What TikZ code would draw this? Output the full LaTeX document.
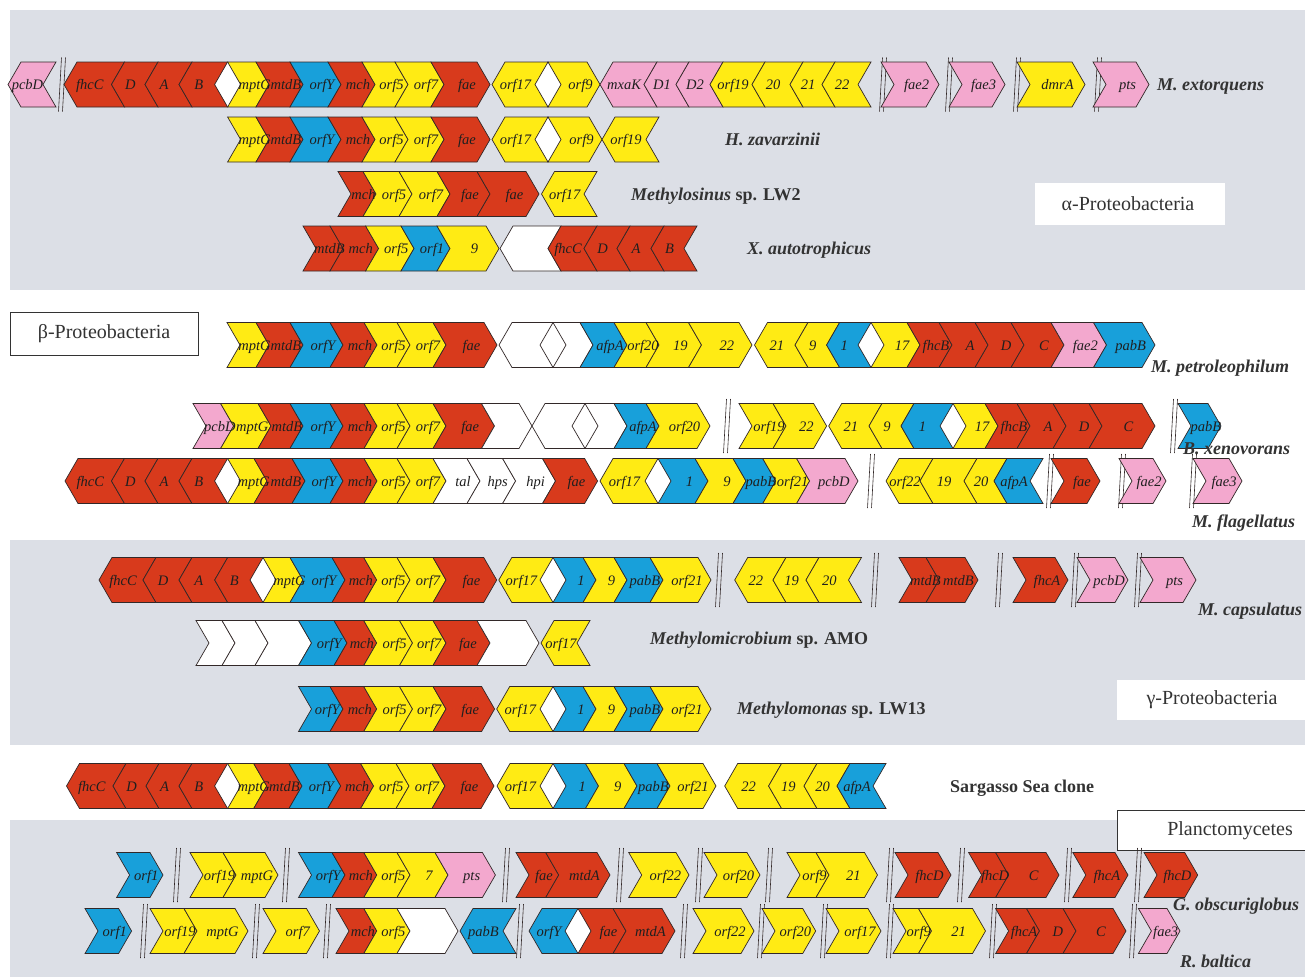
\documentclass[tikz,border=0pt]{standalone}
\usepackage{fontspec}
\setmainfont{Liberation Serif}
\definecolor{gred}{RGB}{216,58,28}
\definecolor{gyel}{RGB}{255,235,20}
\definecolor{gblu}{RGB}{24,160,218}
\definecolor{gpnk}{RGB}{243,168,206}
\definecolor{bandgray}{RGB}{220,223,230}
\definecolor{edge}{RGB}{50,40,40}

\pgfdeclarelayer{labels}
\pgfsetlayers{main,labels}

\newcounter{genectr}
\newcommand\rowy{0}
\newcommand\setrow[1]{\renewcommand\rowy{#1}}
% right-pointing gene: notch x, tip x, fill, label
\newcommand\gr[4]{%
  \stepcounter{genectr}%
  \draw[gene,fill=#3] ({#1-13},{\rowy-22.5}) -- ({#2-13},{\rowy-22.5}) -- (#2,\rowy)
     -- ({#2-13},{\rowy+22.5}) -- ({#1-13},{\rowy+22.5}) -- (#1,\rowy) -- cycle;
  \begin{pgfonlayer}{labels}
  \node[glabel] (gene\arabic{genectr}) at ({(#1+#2)/2},{\rowy+5}) {#4};
  \end{pgfonlayer}%
}
% left-pointing gene: tip x, notch x, fill, label
\newcommand\gl[4]{%
  \stepcounter{genectr}%
  \draw[gene,fill=#3] (#1,\rowy) -- ({#1+13},{\rowy-22.5}) -- ({#2+13},{\rowy-22.5})
     -- (#2,\rowy) -- ({#2+13},{\rowy+22.5}) -- ({#1+13},{\rowy+22.5}) -- cycle;
  \begin{pgfonlayer}{labels}
  \node[glabel] (gene\arabic{genectr}) at ({(#1+#2)/2+2},{\rowy+5}) {#4};
  \end{pgfonlayer}%
}
% white gap between two genes meeting tail to tail
\newcommand\dia[1]{%
  \fill[white] (#1,\rowy) -- ({#1+13},{\rowy-22.5}) -- ({#1+26},\rowy) -- ({#1+13},{\rowy+22.5}) -- cycle;%
}
% break in the sequence
\newcommand\brk[1]{%
  \draw[brkline] ({#1+1.5},{\rowy-27}) -- ({#1-1.5},{\rowy+27});
  \draw[brkline] ({#1+5.5},{\rowy-27}) -- ({#1+2.5},{\rowy+27});%
}

\begin{document}
\begin{tikzpicture}[x=1pt,y=-1pt,
  gene/.style={draw=edge, line width=0.7pt, line join=miter},
  glabel/.style={anchor=base, inner sep=0pt, text=black!88,
    font=\fontsize{14.5}{14.5}\selectfont\itshape},
  brkline/.style={draw=edge, line width=0.6pt},
  species/.style={anchor=base west, inner sep=0pt, text=black!80,
    font=\fontsize{18}{18}\selectfont\bfseries\itshape},
  spname/.style={anchor=base west, inner sep=0pt, text=black!80,
    font=\fontsize{18}{18}\selectfont\bfseries},
  grouplabel/.style={inner sep=0pt, text=black!80, font=\fontsize{20}{20}\selectfont}]

\useasboundingbox (0,0) rectangle (1305,977);
\fill[white] (0,0) rectangle (1305,977);
% taxon bands
\fill[bandgray] (10,10) rectangle (1305,290);
\fill[bandgray] (10,540) rectangle (1305,745);
\fill[bandgray] (10,820) rectangle (1305,977);

% group labels
\fill[white] (1035,183) rectangle (1225,225);
\node[grouplabel] (alpha) at (1128,204) {α-Proteobacteria};
\draw[fill=white, draw=black!80, line width=0.6pt] (10,312) rectangle (198,355);
\node[grouplabel] (beta) at (104,333.5) {β-Proteobacteria};
\fill[white] (1117,680) rectangle (1305,720);
\node[grouplabel] (gamma) at (1212,700) {γ-Proteobacteria};
\draw[fill=white, draw=black!80, line width=0.6pt] (1117,810) rectangle (1310,850);
\node[grouplabel] (planc) at (1230,831) {Planctomycetes};

% ---- M. extorquens
\setrow{84.5}
\dia{214.6} \dia{535}
\gl{8}{43}{gpnk}{pcbD}
\brk{60}
\gl{64}{111.5}{gred}{fhcC}
\gl{111.5}{145}{gred}{D}
\gl{145}{179}{gred}{A}
\gl{179}{214.6}{gred}{B}
\gr{240.6}{269}{gyel}{mptG}
\gr{269}{303}{gred}{mtdB}
\gr{303}{341}{gblu}{orfY}
\gr{341}{375}{gred}{mch}
\gr{375}{408}{gyel}{orf5}
\gr{408}{444}{gyel}{orf7}
\gr{444}{490}{gred}{fae}
\gl{492}{535}{gyel}{orf17}
\gr{561}{600}{gyel}{orf9}
\gl{600}{644}{gpnk}{mxaK}
\gl{644}{676}{gpnk}{D1}
\gl{676}{710}{gpnk}{D2}
\gl{710}{752}{gyel}{orf19}
\gl{752}{790}{gyel}{20}
\gl{790}{822}{gyel}{21}
\gl{822}{858}{gyel}{22}
\brk{881}
\gr{894}{939}{gpnk}{fae2}
\brk{947}
\gr{962}{1005}{gpnk}{fae3}
\brk{1015}
\gr{1030}{1085}{gyel}{dmrA}
\brk{1096}
\gr{1106}{1149}{gpnk}{pts}
\node[species] (sp1) at (1157,90.5) {M. extorquens};

% ---- H. zavarzinii
\setrow{139.5}
\dia{535}
\gr{240.6}{269}{gyel}{mptG}
\gr{269}{303}{gred}{mtdB}
\gr{303}{341}{gblu}{orfY}
\gr{341}{375}{gred}{mch}
\gr{375}{408}{gyel}{orf5}
\gr{408}{444}{gyel}{orf7}
\gr{444}{490}{gred}{fae}
\gl{492}{535}{gyel}{orf17}
\gr{561}{602}{gyel}{orf9}
\gl{602}{646}{gyel}{orf19}
\node[species] (sp2) at (725,145.5) {H. zavarzinii};

% ---- Methylosinus sp. LW2
\setrow{194}
\gr{351}{376}{gred}{mch}
\gr{376}{412}{gyel}{orf5}
\gr{412}{450}{gyel}{orf7}
\gr{450}{490}{gred}{fae}
\gr{490}{539}{gred}{fae}
\gl{541.5}{584}{gyel}{orf17}
\node[spname] (sp3) at (631,200) {\textit{Methylosinus} sp. LW2};

% ---- X. autotrophicus
\setrow{248.5}
\gr{316}{343}{gred}{mtdB}
\gr{343}{378.6}{gred}{mch}
\gr{378.6}{414}{gyel}{orf5}
\gr{414}{450}{gblu}{orf1}
\gr{450}{499}{gyel}{9}
\gl{500}{548}{white}{}
\gl{548}{584}{gred}{fhcC}
\gl{584}{617}{gred}{D}
\gl{617}{651}{gred}{A}
\gl{651}{684}{gred}{B}
\node[species] (sp4) at (747,254.5) {X. autotrophicus};

% ---- M. petroleophilum
\setrow{345}
\dia{540} \dia{858}
\gr{240}{269}{gyel}{mptG}
\gr{269}{303}{gred}{mtdB}
\gr{303}{343}{gblu}{orfY}
\gr{343}{377}{gred}{mch}
\gr{377}{410}{gyel}{orf5}
\gr{410}{446}{gyel}{orf7}
\gr{446}{497}{gred}{fae}
\gl{499}{540}{white}{}
\gr{566}{593}{white}{}
\gr{593}{627}{gblu}{afpA}
\gr{627}{659}{gyel}{orf20}
\gr{659}{701.5}{gyel}{19}
\gr{701.5}{752}{gyel}{22}
\gl{754.5}{795}{gyel}{21}
\gl{795}{826.6}{gyel}{9}
\gl{826.6}{858}{gblu}{1}
\gr{884}{920}{gyel}{17}
\gr{920}{952}{gred}{fhcB}
\gr{952}{988}{gred}{A}
\gr{988}{1024}{gred}{D}
\gr{1024}{1064}{gred}{C}
\gr{1064}{1106.5}{gpnk}{fae2}
\gr{1106.5}{1155}{gblu}{pabB}
\node[species] (sp5) at (1151,372) {M. petroleophilum};

% ---- B. xenovorans
\setrow{426}
\dia{572} \dia{940}
\gr{206}{233.6}{gpnk}{pcbD}
\gr{233.6}{271}{gyel}{mptG}
\gr{271}{303}{gred}{mtdB}
\gr{303}{343}{gblu}{orfY}
\gr{343}{377}{gred}{mch}
\gr{377}{410}{gyel}{orf5}
\gr{410}{446}{gyel}{orf7}
\gr{446}{494.5}{gred}{fae}
\gr{494.5}{532}{white}{}
\gl{532}{572}{white}{}
\gr{598}{627}{white}{}
\gr{627}{659}{gblu}{afpA}
\gr{659}{710}{gyel}{orf20}
\brk{725}
\gr{752}{786}{gyel}{orf19}
\gr{786}{826.6}{gyel}{22}
\gl{828.7}{869}{gyel}{21}
\gl{869}{901}{gyel}{9}
\gl{901}{940}{gblu}{1}
\gr{966}{998}{gyel}{17}
\gr{998}{1030}{gred}{fhcB}
\gr{1030}{1066}{gred}{A}
\gr{1066}{1102}{gred}{D}
\gr{1102}{1155}{gred}{C}
\brk{1172}
\gr{1191}{1221}{gblu}{pabB}
\node[species] (sp6) at (1183,454) {B. xenovorans};

% ---- M. flagellatus
\setrow{481}
\dia{214.6} \dia{645}
\gl{65}{111.5}{gred}{fhcC}
\gl{111.5}{145}{gred}{D}
\gl{145}{179}{gred}{A}
\gl{179}{214.6}{gred}{B}
\gr{240.6}{267}{gyel}{mptG}
\gr{267}{305}{gred}{mtdB}
\gr{305}{343}{gblu}{orfY}
\gr{343}{377}{gred}{mch}
\gr{377}{410}{gyel}{orf5}
\gr{410}{446}{gyel}{orf7}
\gr{446}{480}{white}{tal}
\gr{480}{515.6}{white}{hps}
\gr{515.6}{555.5}{white}{hpi}
\gr{555.5}{597.6}{gred}{fae}
\gl{600}{645}{gyel}{orf17}
\gr{671}{708}{gblu}{1}
\gr{708}{746}{gyel}{9}
\gr{746}{775.7}{gblu}{pabB}
\gr{775.7}{809.6}{gyel}{orf21}
\gr{809.6}{858}{gpnk}{pcbD}
\brk{869}
\gl{886}{920}{gyel}{orf22}
\gl{920}{964}{gyel}{19}
\gl{964}{994}{gyel}{20}
\gl{994}{1030}{gblu}{afpA}
\brk{1048}
\gr{1064}{1100}{gred}{fae}
\brk{1120}
\gr{1132}{1166}{gpnk}{fae2}
\brk{1191}
\gr{1206}{1242}{gpnk}{fae3}
\node[species] (sp7) at (1192,527) {M. flagellatus};

% ---- M. capsulatus
\setrow{580}
\dia{250} \dia{540}
\gl{99}{143}{gred}{fhcC}
\gl{143}{179}{gred}{D}
\gl{179}{214.7}{gred}{A}
\gl{214.7}{250}{gred}{B}
\gr{276}{303}{gyel}{mptG}
\gr{303}{345}{gblu}{orfY}
\gr{345}{376.7}{gred}{mch}
\gr{376.7}{410}{gyel}{orf5}
\gr{410}{446}{gyel}{orf7}
\gr{446}{496.7}{gred}{fae}
\gl{498.8}{540}{gyel}{orf17}
\gr{566}{596}{gblu}{1}
\gr{596}{627}{gyel}{9}
\gr{627}{663}{gblu}{pabB}
\gr{663}{711}{gyel}{orf21}
\brk{717}
\gl{734.7}{773}{gyel}{22}
\gl{773}{806}{gyel}{19}
\gl{806}{848.5}{gyel}{20}
\brk{873}
\gr{912}{939}{gred}{mtdB}
\gr{939}{978}{gred}{mtdB}
\brk{997}
\gr{1026}{1068}{gred}{fhcA}
\brk{1073}
\gr{1090}{1128}{gpnk}{pcbD}
\brk{1136}
\gr{1153}{1196}{gpnk}{pts}
\node[species] (sp8) at (1198,615) {M. capsulatus};

% ---- Methylomicrobium sp. AMO
\setrow{643}
\gr{209}{235}{white}{}
\gr{235}{268}{white}{}
\gr{268}{311.5}{white}{}
\gr{311.5}{347}{gblu}{orfY}
\gr{347}{376.7}{gred}{mch}
\gr{376.7}{412.5}{gyel}{orf5}
\gr{412.5}{446}{gyel}{orf7}
\gr{446}{490}{gred}{fae}
\gr{490}{539}{white}{}
\gl{541}{577}{gyel}{orf17}
\node[spname] (sp9) at (650,644) {\textit{Methylomicrobium} sp. AMO};

% ---- Methylomonas sp. LW13
\setrow{709}
\dia{540}
\gr{311.5}{343}{gblu}{orfY}
\gr{343}{376.7}{gred}{mch}
\gr{376.7}{412.5}{gyel}{orf5}
\gr{412.5}{446}{gyel}{orf7}
\gr{446}{494.6}{gred}{fae}
\gl{496.7}{540}{gyel}{orf17}
\gr{566}{596}{gblu}{1}
\gr{596}{627}{gyel}{9}
\gr{627}{663}{gblu}{pabB}
\gr{663}{711}{gyel}{orf21}
\node[spname] (sp10) at (737,714) {\textit{Methylomonas} sp. LW13};

% ---- Sargasso Sea clone
\setrow{786}
\dia{214.6} \dia{540}
\gl{66.5}{113}{gred}{fhcC}
\gl{113}{146}{gred}{D}
\gl{146}{179}{gred}{A}
\gl{179}{214.6}{gred}{B}
\gr{240.6}{266.7}{gyel}{mptG}
\gr{266.7}{302}{gred}{mtdB}
\gr{302}{340.7}{gblu}{orfY}
\gr{340.7}{373.6}{gred}{mch}
\gr{373.6}{409}{gyel}{orf5}
\gr{409}{445}{gyel}{orf7}
\gr{445}{494}{gred}{fae}
\gl{497}{540}{gyel}{orf17}
\gr{566}{598.5}{gblu}{1}
\gr{598.5}{637}{gyel}{9}
\gr{637}{670}{gblu}{pabB}
\gr{670}{716}{gyel}{orf21}
\gl{724.7}{768.6}{gyel}{22}
\gl{768.6}{804}{gyel}{19}
\gl{804}{837}{gyel}{20}
\gl{837}{873}{gblu}{afpA}
\node[spname] (sp11) at (950,792) {Sargasso Sea clone};

% ---- G. obscuriglobus
\setrow{875}
\gr{129.6}{163}{gblu}{orf1}
\brk{175}
\gr{203}{236}{gyel}{orf19}
\gr{236}{278}{gyel}{mptG}
\brk{284}
\gr{311.5}{345}{gblu}{orfY}
\gr{345}{376.8}{gred}{mch}
\gr{376.8}{410}{gyel}{orf5}
\gr{410}{448}{gyel}{7}
\gr{448}{495.4}{gpnk}{pts}
\brk{504}
\gr{529}{558.7}{gred}{fae}
\gr{558.7}{610}{gred}{mtdA}
\brk{618}
\gr{641.7}{689}{gyel}{orf22}
\brk{697}
\gr{717}{760}{gyel}{orf20}
\brk{767}
\gr{800}{829}{gyel}{orf9}
\gr{829}{877.5}{gyel}{21}
\brk{888}
\gr{908}{951}{gred}{fhcD}
\brk{959}
\gr{981.6}{1008.6}{gred}{fhcD}
\gr{1008.6}{1059}{gred}{C}
\brk{1066}
\gr{1085.8}{1128}{gred}{fhcA}
\brk{1136}
\gr{1157}{1197.7}{gred}{fhcD}
\node[species] (sp12) at (1173,910) {G. obscuriglobus};

% ---- R. baltica
\setrow{931}
\dia{565}
\gr{98}{131.6}{gblu}{orf1}
\brk{142}
\gr{163}{197}{gyel}{orf19}
\gr{197}{248}{gyel}{mptG}
\brk{254}
\gr{276}{319.5}{gyel}{orf7}
\brk{325}
\gr{349}{376.8}{gred}{mch}
\gr{376.8}{410}{gyel}{orf5}
\gr{410}{458}{white}{}
\gl{460}{503}{gblu}{pabB}
\brk{518}
\gl{529}{565}{gblu}{orfY}
\gr{591}{626}{gred}{fae}
\gr{626}{675}{gred}{mtdA}
\brk{682}
\gr{706}{754}{gyel}{orf22}
\brk{759}
\gr{775}{815.7}{gyel}{orf20}
\brk{822}
\gr{839}{881}{gyel}{orf17}
\brk{888}
\gr{906}{931.5}{gyel}{orf9}
\gr{931.5}{985.5}{gyel}{21}
\brk{991}
\gr{1008.6}{1039.5}{gred}{fhcA}
\gr{1039.5}{1076}{gred}{D}
\gr{1076}{1126}{gred}{C}
\brk{1131}
\gr{1151.4}{1180}{gpnk}{fae3}
\node[species] (sp13) at (1180,967) {R. baltica};

\end{tikzpicture}
\end{document}
